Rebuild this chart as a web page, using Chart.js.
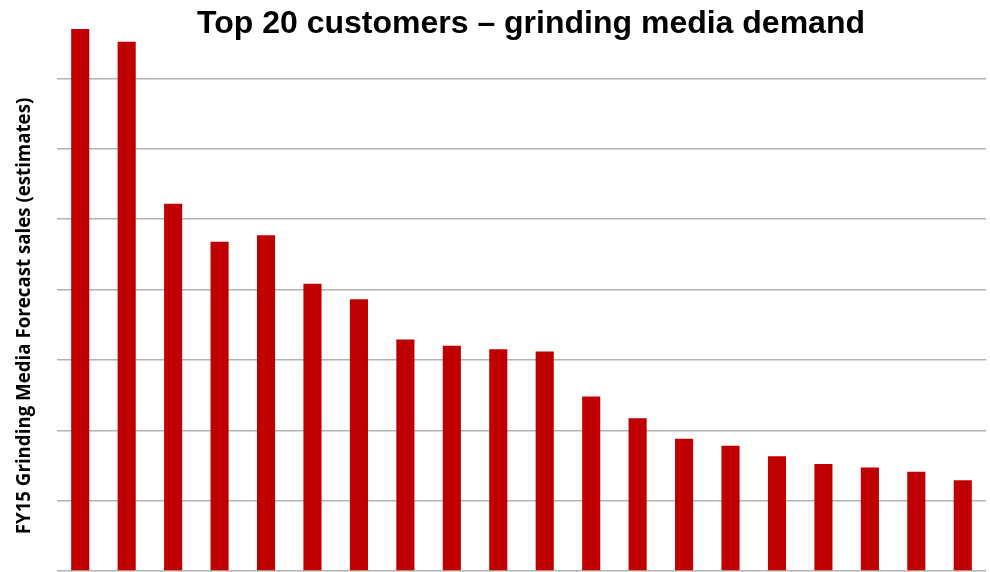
<!DOCTYPE html>
<html>
<head>
<meta charset="utf-8">
<script src="https://cdn.jsdelivr.net/npm/chart.js@4"></script>
<style>
    html, body { margin: 0; padding: 0; background: #fff; }
    #wrap { width: 990px; height: 572px; position: relative; }
</style>
</head>
<body>
<div id="wrap"><canvas id="myChart"></canvas></div>
<script>
"use strict";

// customer ranks (names not shown on the original)
const customers = ["C1", "C2", "C3", "C4", "C5", "C6", "C7", "C8", "C9", "C10",
    "C11", "C12", "C13", "C14", "C15", "C16", "C17", "C18", "C19", "C20"];
// forecast sales, in gridline units (no tick labels on the original)
const demand = [7.70, 7.52, 5.22, 4.68, 4.77, 4.08, 3.86, 3.29, 3.20, 3.15,
    3.12, 2.48, 2.17, 1.88, 1.78, 1.63, 1.52, 1.47, 1.41, 1.29];
const yMax = 8;

const chartTitle = "Top 20 customers \u2013 grinding media demand";
const yTitle = "FY15 Grinding Media Forecast sales (estimates)";

// title + axis label drawn by hand so they can overlap the plot like the original
const textPlugin = {
    id: "textPlugin",
    afterDraw: (chart) => {
        const ctx = chart.ctx;
        ctx.save();
        ctx.fillStyle = "#000";
        ctx.font = "bold 32px 'Liberation Sans', Arial, sans-serif";
        ctx.textAlign = "center";
        ctx.textBaseline = "alphabetic";
        ctx.fillText(chartTitle, 531, 33);

        ctx.translate(25, 316);
        ctx.rotate(-Math.PI / 2);
        ctx.font = "bold 18.7px 'Open Sans', sans-serif";
        ctx.textBaseline = "middle";
        ctx.fillText(yTitle, 0, 0);
        ctx.restore();
    }
};

const renderChart = () => {
    const ctx = document.getElementById("myChart");
    new Chart(ctx, {
        type: "bar",
        data: {
            labels: customers,
            datasets: [{
                data: demand,
                backgroundColor: "#c00000",
                borderWidth: 0,
                barPercentage: 0.39,
                categoryPercentage: 1
            }]
        },
        options: {
            responsive: true,
            maintainAspectRatio: false,
            animation: false,
            layout: { padding: { left: 57, right: 4, top: 8, bottom: 1 } },
            plugins: {
                legend: { display: false },
                tooltip: { enabled: false }
            },
            scales: {
                x: {
                    ticks: { display: false },
                    grid: { display: false, drawTicks: false },
                    border: { display: false }
                },
                y: {
                    min: 0,
                    max: yMax,
                    ticks: { display: false, stepSize: 1 },
                    grid: {
                        color: c => c.tick.value === yMax ? "rgba(0,0,0,0)" : "#b4b4b4",
                        lineWidth: 1.5,
                        drawTicks: false
                    },
                    border: { display: false }
                }
            }
        },
        plugins: [textPlugin]
    });
};

document.addEventListener("DOMContentLoaded", () => {
    renderChart();
});
</script>
</body>
</html>
